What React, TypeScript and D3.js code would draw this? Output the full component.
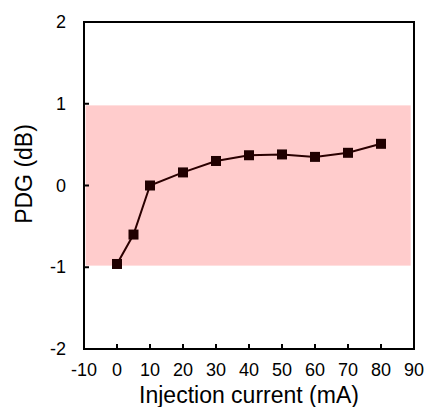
import React, { useEffect, useRef } from 'react'
import * as d3 from 'd3'

const currents = [0, 5, 10, 20, 30, 40, 50, 60, 70, 80]
const pdg = [-0.96, -0.6, 0.0, 0.16, 0.3, 0.37, 0.38, 0.35, 0.4, 0.51]
const xTicks = [-10, 0, 10, 20, 30, 40, 50, 60, 70, 80, 90]
const yTicks = [-2, -1, 0, 1, 2]
const band = { x0: -9.5, x1: 89, y0: -0.98, y1: 0.98 }

const W = 436
const H = 407

const App = () => {
  const svgRef = useRef<SVGSVGElement>(null)

  useEffect(() => {
    const svg = d3.select(svgRef.current)
    svg.selectAll('*').remove()

    const margin = { top: 22, right: 22, bottom: 58, left: 84 }
    const x = d3.scaleLinear().domain([-10, 90]).range([margin.left, W - margin.right])
    const y = d3.scaleLinear().domain([-2, 2]).range([H - margin.bottom, margin.top])
    const font = 'Arial, "Liberation Sans", sans-serif'

    // tolerance band
    svg.append('rect')
      .attr('x', x(band.x0))
      .attr('y', y(band.y1))
      .attr('width', x(band.x1) - x(band.x0))
      .attr('height', y(band.y0) - y(band.y1))
      .attr('fill', '#ffcccc')

    // frame
    svg.append('rect')
      .attr('x', x(-10))
      .attr('y', y(2))
      .attr('width', x(90) - x(-10))
      .attr('height', y(-2) - y(2))
      .attr('fill', 'none')
      .attr('stroke', '#000')
      .attr('stroke-width', 2)

    // inward ticks
    svg.selectAll('line.xt')
      .data(xTicks.slice(1, -1))
      .enter()
      .append('line')
      .attr('x1', d => x(d)).attr('x2', d => x(d))
      .attr('y1', y(-2)).attr('y2', y(-2) - 5)
      .attr('stroke', '#000').attr('stroke-width', 2)

    svg.selectAll('line.yt')
      .data(yTicks.slice(1, -1))
      .enter()
      .append('line')
      .attr('x1', x(-10)).attr('x2', x(-10) + 5)
      .attr('y1', d => y(d)).attr('y2', d => y(d))
      .attr('stroke', '#000').attr('stroke-width', 2)

    // tick labels
    svg.selectAll('text.xl')
      .data(xTicks)
      .enter()
      .append('text')
      .attr('x', d => x(d))
      .attr('y', y(-2) + 27)
      .attr('text-anchor', 'middle')
      .style('font-family', font)
      .style('font-size', '18px')
      .text(d => d)

    svg.selectAll('text.yl')
      .data(yTicks)
      .enter()
      .append('text')
      .attr('x', x(-10) - 18)
      .attr('y', d => y(d) + 6)
      .attr('text-anchor', 'end')
      .style('font-family', font)
      .style('font-size', '18px')
      .text(d => d)

    // axis titles
    svg.append('text')
      .attr('x', (x(-10) + x(90)) / 2)
      .attr('y', 403)
      .attr('text-anchor', 'middle')
      .style('font-family', font)
      .style('font-size', '23px')
      .text('Injection current (mA)')

    svg.append('text')
      .attr('transform', `translate(31.5,174) rotate(-90)`)
      .attr('text-anchor', 'middle')
      .style('font-family', font)
      .style('font-size', '23px')
      .text('PDG (dB)')

    // series
    const pts = currents.map((c, i) => [c, pdg[i]] as [number, number])
    const line = d3.line<[number, number]>().x(d => x(d[0])).y(d => y(d[1]))

    svg.append('path')
      .attr('d', line(pts))
      .attr('fill', 'none')
      .attr('stroke', '#2a0000')
      .attr('stroke-width', 2)

    svg.selectAll('rect.pt')
      .data(pts)
      .enter()
      .append('rect')
      .attr('x', d => x(d[0]) - 5)
      .attr('y', d => y(d[1]) - 5)
      .attr('width', 10)
      .attr('height', 10)
      .attr('fill', '#200000')
  }, [])

  return (
    <svg ref={svgRef} width={W} height={H}
      style={{ position: 'absolute', left: 0, top: 0, background: '#fff' }} />
  )
}

export default App
